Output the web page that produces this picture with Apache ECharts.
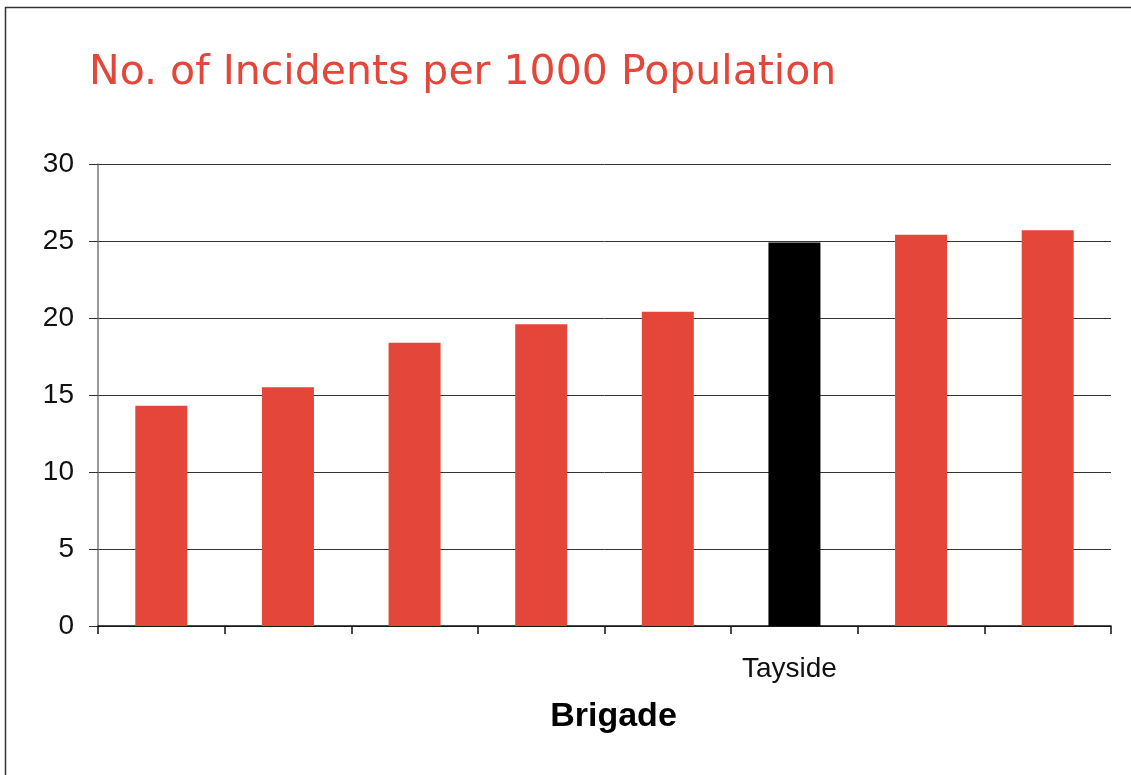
<!DOCTYPE html>
<html>
<head>
<meta charset="utf-8">
<script src="https://cdn.jsdelivr.net/npm/echarts@6/dist/echarts.min.js"></script>
<style>
  html, body { margin: 0; padding: 0; background: #fff; }
  #main { width: 1131px; height: 775px; }
</style>
</head>
<body>
<div id="main"></div>
<script>
// brigades, sorted by rate; only Tayside is labelled in the source
const brigades = ['', '', '', '', '', 'Tayside', '', ''];
const incidentsPer1000 = [14.3, 15.5, 18.4, 19.6, 20.4, 24.9, 25.4, 25.7];
const yTicks = [0, 5, 10, 15, 20, 25, 30];

const RED = '#e4463a';
const FONT = 'Liberation Sans';

const chart = echarts.init(document.getElementById('main'), null, { renderer: 'canvas' });

chart.setOption({
    backgroundColor: '#fff',
    animation: false,
    title: {
        text: 'No. of Incidents per 1000 Population',
        left: 84,
        top: 48,
        textStyle: { color: RED, fontFamily: 'DejaVu Sans', fontWeight: 'normal', fontSize: 41 }
    },
    graphic: [{
        type: 'rect',
        shape: { x: 5.5, y: 7.5, width: 1200, height: 900 },
        style: { fill: 'none', stroke: '#333', lineWidth: 1.5 },
        silent: true
    }],
    grid: { left: 98, right: 20, top: 164, bottom: 149 },
    xAxis: {
        type: 'category',
        data: brigades,
        name: 'Brigade',
        nameLocation: 'middle',
        nameGap: 74,
        nameTextStyle: { color: '#000', fontFamily: FONT, fontWeight: 'bold', fontSize: 34, padding: [0, 0, 0, 18] },
        axisLine: { lineStyle: { color: '#111', width: 1.5 } },
        axisTick: { show: true, length: 8, lineStyle: { color: '#111', width: 1.5 } },
        axisLabel: { color: '#111', fontFamily: FONT, fontSize: 28, margin: 29, interval: 0, padding: [0, 10, 0, 0] }
    },
    yAxis: {
        type: 'value',
        min: yTicks[0],
        max: yTicks[yTicks.length - 1],
        interval: 5,
        axisLine: { show: true, lineStyle: { color: '#777', width: 1.5 } },
        axisTick: { show: true, length: 9, lineStyle: { color: '#333' } },
        splitLine: { lineStyle: { color: '#333', width: 1 } },
        axisLabel: { color: '#111', fontFamily: FONT, fontSize: 28, margin: 24, padding: [5, 0, 0, 0] }
    },
    series: [{
        type: 'bar',
        barWidth: 52,
        data: incidentsPer1000.map((v, i) => ({
            value: v,
            itemStyle: { color: brigades[i] === 'Tayside' ? '#000' : RED }
        }))
    }]
});
</script>
</body>
</html>
